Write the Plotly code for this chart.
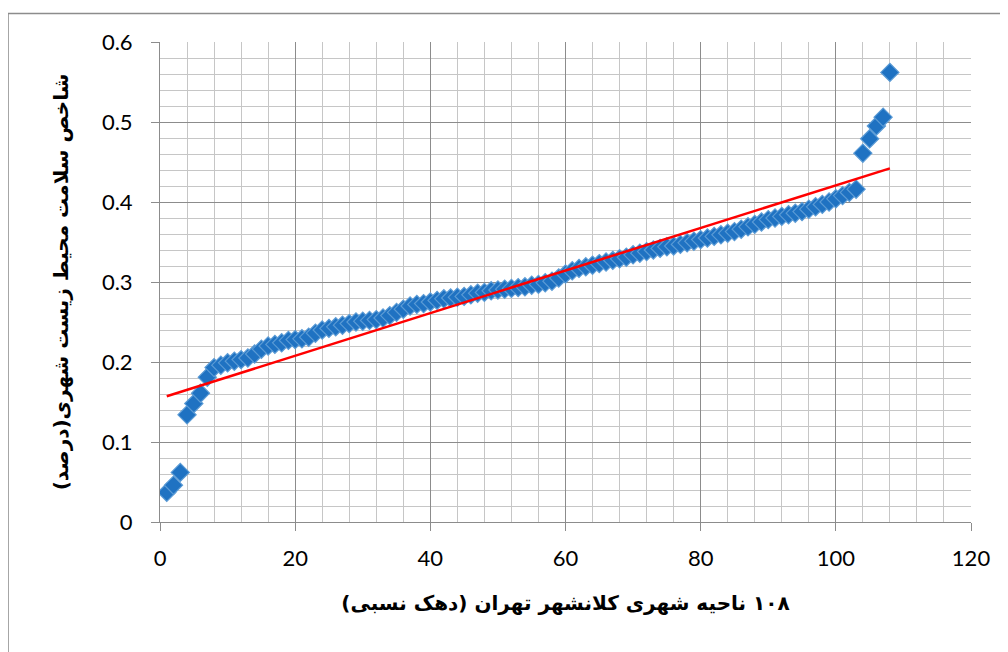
import numpy as np
import plotly.graph_objects as go

district = list(range(1, 109))
health_index = [
    0.037, 0.046, 0.062, 0.134, 0.148, 0.161, 0.181, 0.193, 0.196, 0.199,
    0.201, 0.203, 0.205, 0.210, 0.216, 0.220, 0.222, 0.224, 0.227, 0.228,
    0.229, 0.231, 0.236, 0.240, 0.242, 0.244, 0.246, 0.248, 0.250, 0.251,
    0.252, 0.253, 0.255, 0.258, 0.262, 0.266, 0.270, 0.272, 0.273, 0.275,
    0.277, 0.279, 0.280, 0.281, 0.282, 0.284, 0.286, 0.287, 0.289, 0.290,
    0.291, 0.292, 0.293, 0.294, 0.296, 0.297, 0.299, 0.301, 0.305, 0.310,
    0.314, 0.317, 0.319, 0.321, 0.323, 0.325, 0.327, 0.329, 0.331, 0.334,
    0.336, 0.338, 0.340, 0.342, 0.344, 0.345, 0.347, 0.349, 0.351, 0.353,
    0.355, 0.357, 0.359, 0.361, 0.363, 0.366, 0.369, 0.372, 0.375, 0.378,
    0.380, 0.382, 0.384, 0.386, 0.388, 0.391, 0.394, 0.397, 0.400, 0.404,
    0.408, 0.412, 0.416, 0.461, 0.479, 0.495, 0.506, 0.562,
]
x_title = "۱۰۸ ناحیه شهری کلانشهر تهران (دهک نسبی)"
y_title = "شاخص سلامت محیط زیست شهری(درصد)"

slope, intercept = np.polyfit(district, health_index, 1)
trend_x = [district[0], district[-1]]
trend_y = [slope * v + intercept for v in trend_x]

fig = go.Figure()
fig.add_trace(go.Scatter(
    x=district, y=health_index, mode="markers",
    marker=dict(symbol="diamond", size=14, color="#1f72c2",
                line=dict(color="#5b9bd5", width=1.2)),
    showlegend=False,
))
fig.add_trace(go.Scatter(
    x=trend_x, y=trend_y, mode="lines",
    line=dict(color="#ff0000", width=2.5),
    showlegend=False,
))

tick_font = dict(family="Lato, Liberation Sans, sans-serif", size=22, color="#000000")
title_font = dict(family="DejaVu Sans", size=20, color="#000000")

fig.update_layout(
    width=1008, height=652,
    margin=dict(l=152, r=45, t=34, b=138, autoexpand=False),
    paper_bgcolor="white", plot_bgcolor="white",
    xaxis=dict(
        range=[0, 120], dtick=20, tick0=0,
        showgrid=True, gridcolor="#8c8c8c", gridwidth=1,
        minor=dict(dtick=4, showgrid=True, gridcolor="#c6c6c6", gridwidth=1),
        ticks="outside", ticklen=8, tickcolor="#8c8c8c",
        showline=True, linecolor="#8c8c8c", linewidth=1,
        zeroline=False, tickfont=tick_font,
        ticklabelstandoff=9,
        automargin=False,
        title=dict(text="<b>\u202b" + x_title + "\u202c</b>", font=title_font, standoff=25),
    ),
    yaxis=dict(
        range=[0, 0.6], dtick=0.1, tick0=0,
        showgrid=True, gridcolor="#8c8c8c", gridwidth=1,
        minor=dict(dtick=0.02, showgrid=True, gridcolor="#c6c6c6", gridwidth=1),
        ticks="outside", ticklen=8, tickcolor="#8c8c8c",
        showline=True, linecolor="#8c8c8c", linewidth=1,
        zeroline=False, tickfont=tick_font, tickformat="~g",
        ticklabelstandoff=14,
        automargin=False,
        title=dict(text="<b>\u202b" + y_title + "\u202c</b>", font=title_font, standoff=27),
    ),
    shapes=[dict(
        type="rect", xref="paper", yref="paper",
        x0=-0.1874, y0=-0.4, x1=1.1, y1=1.0594,
        line=dict(color="#8c8c8c", width=1.5), fillcolor="rgba(0,0,0,0)",
        layer="below",
    )],
)

fig.write_html("out.html")
